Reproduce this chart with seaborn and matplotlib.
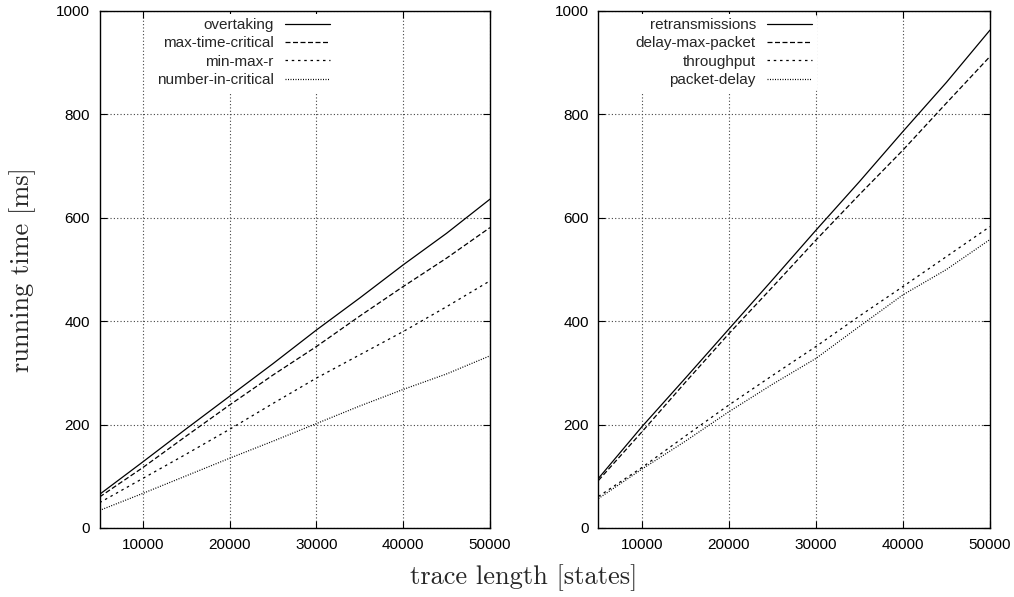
import matplotlib
matplotlib.use("Agg")
import matplotlib.pyplot as plt
import seaborn as sns
import pandas as pd

# trace length (states)
trace_len = [5000, 10000, 15000, 20000, 25000, 30000, 35000, 40000, 45000, 50000]

# left panel: running time in ms
overtaking = [65, 128, 192, 255, 318, 383, 445, 509, 570, 636]
max_time_critical = [60, 117, 178, 238, 296, 351, 410, 467, 522, 581]
min_max_r = [49, 96, 143, 191, 241, 290, 335, 380, 428, 478]
number_in_critical = [34, 67, 101, 135, 168, 202, 236, 268, 298, 333]

# right panel
retransmissions = [96, 196, 290, 385, 480, 576, 670, 767, 862, 963]
delay_max_packet = [92, 186, 282, 376, 466, 557, 645, 731, 822, 912]
throughput = [61, 117, 178, 238, 295, 351, 410, 467, 525, 583]
packet_delay = [57, 114, 168, 225, 278, 328, 390, 451, 500, 558]

left_series = {"overtaking": overtaking, "max-time-critical": max_time_critical,
               "min-max-r": min_max_r, "number-in-critical": number_in_critical}
right_series = {"retransmissions": retransmissions, "delay-max-packet": delay_max_packet,
                "throughput": throughput, "packet-delay": packet_delay}

sns.set_style("ticks")
plt.rcParams["font.family"] = ["Liberation Sans", "DejaVu Sans"]

dash_styles = ["", (4, 2), (2, 3), (0.8, 1.2)]


def to_long(series):
    rows = []
    for name, vals in series.items():
        for x, y in zip(trace_len, vals):
            rows.append({"states": x, "ms": y, "series": name})
    return pd.DataFrame(rows)


def draw(ax, series, leg_x):
    df = to_long(series)
    names = list(series.keys())
    sns.lineplot(data=df, x="states", y="ms", hue="series", style="series",
                 hue_order=names, style_order=names,
                 palette=["black"] * 4, dashes=dict(zip(names, dash_styles)),
                 linewidth=0.9, ax=ax)
    ax.set_xlim(5000, 50000)
    ax.set_ylim(0, 1000)
    ax.set_xticks([10000, 20000, 30000, 40000, 50000])
    ax.set_yticks([0, 200, 400, 600, 800, 1000])
    ax.set_xlabel("")
    ax.set_ylabel("")
    ax.grid(True, color="#444444", linestyle=(0, (1, 2)), linewidth=0.8)
    ax.tick_params(direction="in", length=5, width=0.8, top=True, right=True,
                   labelsize=11, pad=7, colors="black")
    for sp in ax.spines.values():
        sp.set_linewidth(1.0)
        sp.set_color("black")
    leg = ax.legend(loc="upper right", bbox_to_anchor=(leg_x, 0.995),
                    markerfirst=False, frameon=True, fontsize=11,
                    handlelength=3.0, handletextpad=0.7, labelspacing=0.28,
                    borderpad=0.3, borderaxespad=0.0)
    leg.get_frame().set_facecolor("white")
    leg.get_frame().set_edgecolor("none")
    leg.get_frame().set_alpha(1.0)
    leg.set_zorder(5)


fig = plt.figure(figsize=(10.14, 5.97), dpi=100)
ax1 = fig.add_axes([0.0982, 0.1156, 0.385, 0.866])
ax2 = fig.add_axes([0.5902, 0.1156, 0.3861, 0.866])

draw(ax1, left_series, 0.603)
draw(ax2, right_series, 0.558)

fig.text(0.516, 0.032, "trace length [states]", family="cmr10", fontsize=19,
         ha="center", va="center")
fig.text(0.022, 0.548, "running time [ms]", family="cmr10", fontsize=19,
         ha="center", va="center", rotation=90)

fig.savefig("out.png", dpi=100)
